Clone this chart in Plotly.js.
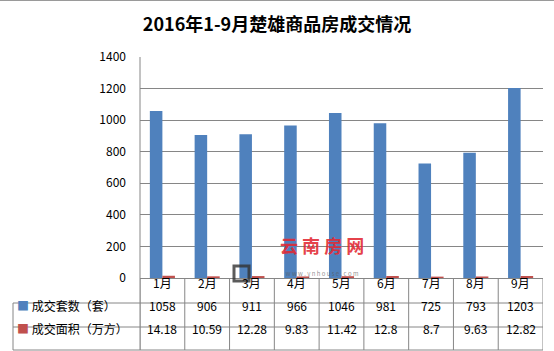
<!DOCTYPE html>
<html>
<head>
<meta charset="utf-8">
<script src="https://cdn.plot.ly/plotly-3.0.1.min.js"></script>
<style>html,body{margin:0;padding:0;background:#fff;}#chart{width:554px;height:351px;}</style>
</head>
<body>
<div id="chart"></div>
<script>
const months = ['1月','2月','3月','4月','5月','6月','7月','8月','9月'];
const seriesNames = ['成交套数（套）','成交面积（万方）'];
const units = [1058, 906, 911, 966, 1046, 981, 725, 793, 1203];
const areas = [14.18, 10.59, 12.28, 9.83, 11.42, 12.8, 8.7, 9.63, 12.82];
const unitLabels = ['1058','906','911','966','1046','981','725','793','1203'];
const areaLabels = ['14.18','10.59','12.28','9.83','11.42','12.8','8.7','9.63','12.82'];
const titleText = '2016年1-9月楚雄商品房成交情况';
const watermarkText = '云 南 房 网';
const watermarkUrl = 'w w w . y n h o u s e . c o m';

const W = 554, H = 351;
const L = 140, R = 11, T = 57, B = 73;
const plotH = H - T - B, plotW = W - L - R;
const py = p => (H - B - p) / plotH;      // pixel y -> paper y
const px = p => (p - L) / plotW;          // pixel x -> paper x
const grid = '#868686';
const font = '"Noto Sans CJK SC", "Noto Sans", sans-serif';
const colors = ['#4F81BD', '#C0504D'];

const idx = months.map((m, i) => i);
const traces = [
  {type: 'bar', x: idx, y: units, name: seriesNames[0], marker: {color: colors[0]}, hoverinfo: 'none'},
  {type: 'bar', x: idx, y: areas, name: seriesNames[1], marker: {color: colors[1]}, hoverinfo: 'none'}
];

const rowH = [py(303), py(327), py(350)];
const shapes = [];
const line = {color: grid, width: 1};
// left axis line
shapes.push({type: 'line', xref: 'paper', yref: 'paper', x0: 0, x1: 0, y0: 1, y1: rowH[2], line});
// category separators in table
for (let i = 0; i <= months.length; i++) {
  shapes.push({type: 'line', xref: 'x', yref: 'paper', x0: i - 0.5, x1: i - 0.5, y0: 0, y1: rowH[2], line});
}
// horizontal table lines
rowH.forEach(y => shapes.push({type: 'line', xref: 'paper', yref: 'paper', x0: px(13), x1: 1, y0: y, y1: y, line}));
shapes.push({type: 'line', xref: 'paper', yref: 'paper', x0: px(13), x1: px(13), y0: rowH[0], y1: rowH[2], line});
// top border of the chart area
shapes.push({type: 'line', xref: 'paper', yref: 'paper', x0: px(0), x1: px(554), y0: py(0.5), y1: py(0.5), line: {color: '#9a9a9a', width: 1}});
// watermark logo box
shapes.push({type: 'rect', xref: 'paper', yref: 'paper', x0: px(234), x1: px(249), y0: py(266), y1: py(281), line: {color: 'rgba(50,50,50,0.8)', width: 3}});

const annotations = [];
const headY = py(292), r1Y = py(315.5), r2Y = py(339);
months.forEach((m, i) => {
  annotations.push({xref: 'x', yref: 'paper', x: i, y: headY, text: m, showarrow: false, borderpad: 0, font: {family: font, size: 12, color: '#000'}});
  annotations.push({xref: 'x', yref: 'paper', x: i, y: r1Y, text: unitLabels[i], showarrow: false, font: {family: font, size: 12, color: '#000'}});
  annotations.push({xref: 'x', yref: 'paper', x: i, y: r2Y, text: areaLabels[i], showarrow: false, font: {family: font, size: 12, color: '#000'}});
});
[r1Y, r2Y].forEach((y, k) => {
  annotations.push({xref: 'paper', yref: 'paper', x: px(15), y: y, xanchor: 'left', text: '<span style="color:' + colors[k] + '">■</span> ' + seriesNames[k], showarrow: false, font: {family: font, size: 12, color: '#000'}});
});
// watermark (single block)
annotations.push({xref: 'paper', yref: 'paper', x: px(322), y: py(279), yanchor: 'bottom', align: 'center', borderpad: 0,
  text: '<b>' + watermarkText + '</b><br><span style="font-size:6px;color:rgba(90,90,90,0.75)">' + watermarkUrl + '</span>',
  showarrow: false, font: {family: font, size: 18, color: 'rgba(226,40,50,0.9)'}});

const layout = {
  width: W, height: H,
  margin: {l: L, r: R, t: T, b: B, pad: 0},
  paper_bgcolor: '#fff', plot_bgcolor: '#fff',
  showlegend: false,
  bargap: 0.44, bargroupgap: 0,
  title: {text: titleText, font: {family: font, size: 18, color: '#000', weight: 'bold'}, x: 0.5, xanchor: 'center', xref: 'container', y: 1 - 25 / H, yref: 'container', yanchor: 'middle'},
  xaxis: {type: 'linear', range: [-0.5, months.length - 0.5], showticklabels: false, showgrid: false, zeroline: false, showline: false, ticks: ''},
  yaxis: {range: [0, 1400], dtick: 200, tick0: 0, showgrid: true, gridcolor: grid, gridwidth: 1, zeroline: true, zerolinecolor: grid, zerolinewidth: 1, showline: false, ticks: '', ticklabelstandoff: 13, tickfont: {family: font, size: 12, color: '#000'}},
  shapes: shapes,
  annotations: annotations
};

Plotly.newPlot('chart', traces, layout, {displayModeBar: false, staticPlot: true});
</script>
</body>
</html>
